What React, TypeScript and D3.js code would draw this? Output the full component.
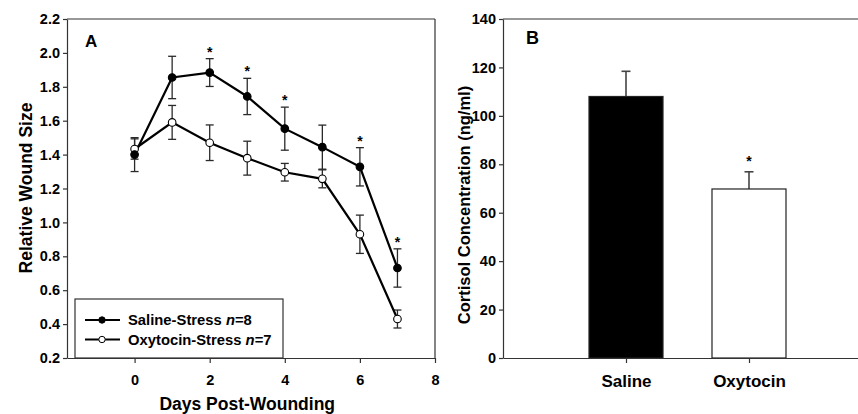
import * as d3 from "d3";
import React, { useEffect, useRef } from "react";

// panel A: relative wound size by day
const days = [0, 1, 2, 3, 4, 5, 6, 7];
const salineMean = [1.4, 1.855, 1.884, 1.743, 1.553, 1.444, 1.328, 0.731];
const salineSem = [0.1, 0.125, 0.082, 0.107, 0.127, 0.13, 0.113, 0.113];
const oxytocinMean = [1.433, 1.59, 1.47, 1.379, 1.296, 1.257, 0.93, 0.43];
const oxytocinSem = [0.06, 0.1, 0.105, 0.1, 0.052, 0.053, 0.113, 0.053];
const starDays = [2, 3, 4, 6, 7];
const dayTicks = [0, 2, 4, 6, 8];
const woundTicks = [0.2, 0.4, 0.6, 0.8, 1.0, 1.2, 1.4, 1.6, 1.8, 2.0, 2.2];

// panel B: cortisol
const groups = ["Saline", "Oxytocin"];
const cortisolMean = [108, 69.8];
const cortisolSem = [10.4, 7.1];
const cortisolTicks = [0, 20, 40, 60, 80, 100, 120, 140];

const FONT = "Arial, 'Liberation Sans', Helvetica, sans-serif";

const styleAxis = (g: any) => {
  g.select(".domain").attr("stroke", "#333").attr("stroke-width", 1.2);
  g.selectAll(".tick line").attr("stroke", "#333").attr("stroke-width", 1.2);
  g.selectAll(".tick text")
    .attr("fill", "#000")
    .style("font-family", FONT)
    .style("font-weight", "bold")
    .style("font-size", "14.5px");
};

export default function App() {
  const ref = useRef<SVGSVGElement>(null);

  useEffect(() => {
    const svg = d3.select(ref.current);
    svg.selectAll("*").remove();

    // ---------- panel A ----------
    const x = d3.scaleLinear().domain([-1.8, 8]).range([67, 435]);
    const y = d3.scaleLinear().domain([0.2, 2.2]).range([358, 19]);
    const a = svg.append("g");

    // frame top/right
    a.append("line").attr("x1", 67).attr("x2", 435).attr("y1", y(2.2)).attr("y2", y(2.2))
      .attr("stroke", "#333").attr("stroke-width", 1.2);
    a.append("line").attr("x1", 435).attr("x2", 435).attr("y1", y(2.2)).attr("y2", y(0.2))
      .attr("stroke", "#333").attr("stroke-width", 1.2);

    a.append("g")
      .attr("transform", `translate(0,${y(0.2)})`)
      .call(d3.axisBottom(x).tickValues(dayTicks).tickSize(5).tickPadding(12).tickSizeOuter(0).tickFormat(d3.format("d")))
      .call(styleAxis);
    a.append("g")
      .attr("transform", `translate(${x(-1.8)},0)`)
      .call(d3.axisLeft(y).tickValues(woundTicks).tickSize(4).tickPadding(3).tickSizeOuter(0).tickFormat(d3.format(".1f")))
      .call(styleAxis);

    const series = [
      { mean: oxytocinMean, sem: oxytocinSem, fill: "#fff" },
      { mean: salineMean, sem: salineSem, fill: "#000" },
    ];

    // error bars
    series.forEach((s) => {
      const eg = a.append("g").attr("stroke", "#2a2a2a").attr("stroke-width", 1.3);
      days.forEach((d, i) => {
        const cx = x(d);
        const top = y(s.mean[i] + s.sem[i]);
        const bot = y(s.mean[i] - s.sem[i]);
        eg.append("line").attr("x1", cx).attr("x2", cx).attr("y1", top).attr("y2", bot);
        eg.append("line").attr("x1", cx - 4).attr("x2", cx + 4).attr("y1", top).attr("y2", top);
        eg.append("line").attr("x1", cx - 4).attr("x2", cx + 4).attr("y1", bot).attr("y2", bot);
      });
    });

    const line = d3.line<number>().x((_, i) => x(days[i])).y((v) => y(v));
    series.forEach((s) => {
      a.append("path").attr("d", line(s.mean)).attr("fill", "none")
        .attr("stroke", "#000").attr("stroke-width", 2.2);
    });
    series.forEach((s) => {
      a.selectAll(null).data(s.mean).enter().append("circle")
        .attr("cx", (_, i) => x(days[i])).attr("cy", (v) => y(v)).attr("r", 3.8)
        .attr("fill", s.fill).attr("stroke", "#000").attr("stroke-width", 1.1);
    });

    a.selectAll(null).data(starDays).enter().append("text")
      .attr("x", (d) => x(d)).attr("y", (d) => y(salineMean[d] + salineSem[d]) - 2)
      .attr("text-anchor", "middle")
      .style("font-family", FONT).style("font-weight", "bold").style("font-size", "14px")
      .text("*");

    a.append("text").attr("x", 85).attr("y", 47)
      .style("font-family", FONT).style("font-weight", "bold").style("font-size", "17px")
      .text("A");

    a.append("text").attr("x", x(3)).attr("y", 410).attr("text-anchor", "middle")
      .style("font-family", FONT).style("font-weight", "bold").style("font-size", "17.5px")
      .text("Days Post-Wounding");
    a.append("text").attr("transform", `translate(32,188) rotate(-90)`).attr("text-anchor", "middle")
      .style("font-family", FONT).style("font-weight", "bold").style("font-size", "17.5px")
      .text("Relative Wound Size");

    // legend
    const lg = a.append("g");
    lg.append("rect").attr("x", 75).attr("y", 299).attr("width", 208).attr("height", y(0.2) - 299)
      .attr("fill", "#fff").attr("stroke", "#333").attr("stroke-width", 1.2);
    const legendItems = [
      { label: "Saline-Stress ", n: "8", fill: "#000" },
      { label: "Oxytocin-Stress ", n: "7", fill: "#fff" },
    ];
    legendItems.forEach((it, i) => {
      const ly = 320 + i * 19.5;
      lg.append("line").attr("x1", 85).attr("x2", 120).attr("y1", ly).attr("y2", ly)
        .attr("stroke", "#000").attr("stroke-width", 2.2);
      lg.append("circle").attr("cx", 102).attr("cy", ly).attr("r", 3.2)
        .attr("fill", it.fill).attr("stroke", "#000").attr("stroke-width", 1);
      const t = lg.append("text").attr("x", 128).attr("y", ly + 5)
        .style("font-family", FONT).style("font-weight", "bold").style("font-size", "14.8px");
      t.append("tspan").text(it.label);
      t.append("tspan").style("font-style", "italic").text("n");
      t.append("tspan").text("=" + it.n);
    });

    // ---------- panel B ----------
    const xb = d3.scalePoint<string>().domain(groups).range([503, 872]).padding(1);
    const yb = d3.scaleLinear().domain([0, 140]).range([358, 19]);
    const b = svg.append("g");
    const barW = 74;

    b.append("line").attr("x1", 503).attr("x2", 872).attr("y1", yb(140)).attr("y2", yb(140))
      .attr("stroke", "#333").attr("stroke-width", 1.2);

    b.selectAll(null).data(groups).enter().append("line")
      .attr("x1", (g) => xb(g)!).attr("x2", (g) => xb(g)!)
      .attr("y1", (_, i) => yb(cortisolMean[i])).attr("y2", (_, i) => yb(cortisolMean[i] + cortisolSem[i]))
      .attr("stroke", "#444").attr("stroke-width", 1.6);
    b.selectAll(null).data(groups).enter().append("line")
      .attr("x1", (g) => xb(g)! - 4.5).attr("x2", (g) => xb(g)! + 4.5)
      .attr("y1", (_, i) => yb(cortisolMean[i] + cortisolSem[i])).attr("y2", (_, i) => yb(cortisolMean[i] + cortisolSem[i]))
      .attr("stroke", "#444").attr("stroke-width", 1.6);

    b.selectAll(null).data(groups).enter().append("rect")
      .attr("x", (g) => xb(g)! - barW / 2).attr("width", barW)
      .attr("y", (_, i) => yb(cortisolMean[i])).attr("height", (_, i) => yb(0) - yb(cortisolMean[i]))
      .attr("fill", (_, i) => (i === 0 ? "#000" : "#fff"))
      .attr("stroke", "#222").attr("stroke-width", 1.2);

    b.append("g")
      .attr("transform", `translate(0,${yb(0)})`)
      .call(d3.axisBottom(xb).tickSize(5).tickPadding(12).tickSizeOuter(0))
      .call(styleAxis)
      .call((g: any) => g.selectAll(".tick text").style("font-size", "17px"));
    b.append("g")
      .attr("transform", `translate(503,0)`)
      .call(d3.axisLeft(yb).tickValues(cortisolTicks).tickSize(4).tickPadding(3).tickSizeOuter(0))
      .call(styleAxis);

    b.append("text").attr("x", xb("Oxytocin")!).attr("y", yb(cortisolMean[1] + cortisolSem[1]) - 6)
      .attr("text-anchor", "middle")
      .style("font-family", FONT).style("font-weight", "bold").style("font-size", "14px")
      .text("*");

    b.append("text").attr("x", 526).attr("y", 43.5)
      .style("font-family", FONT).style("font-weight", "bold").style("font-size", "18px")
      .text("B");

    b.append("text").attr("transform", `translate(470,205) rotate(-90)`).attr("text-anchor", "middle")
      .style("font-family", FONT).style("font-weight", "bold").style("font-size", "16.5px")
      .text("Cortisol Concentration (ng/ml)");
  }, []);

  return (
    <svg
      ref={ref}
      width={858}
      height={414}
      style={{ position: "absolute", left: 0, top: 0, background: "#fff" }}
    ></svg>
  );
}
